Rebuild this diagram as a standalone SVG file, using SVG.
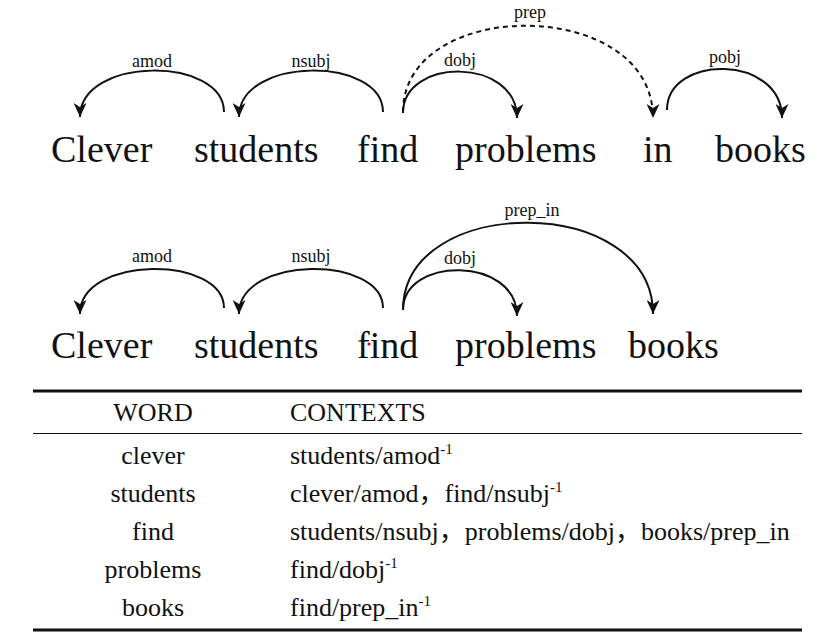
<svg xmlns="http://www.w3.org/2000/svg" width="836" height="634" viewBox="0 0 836 634">
<style>
.w{font-family:'Liberation Serif','Tinos','DejaVu Serif',serif;font-size:38px;fill:#111}
.l{font-family:'Liberation Serif','Tinos','DejaVu Serif',serif;font-size:18px;fill:#111;text-anchor:middle}
.t{font-family:'Liberation Serif','Tinos','DejaVu Serif','Noto Sans CJK SC',serif;font-size:26px;fill:#111}
.c{text-anchor:middle}
.a{fill:none;stroke:#111;stroke-width:2;marker-end:url(#ah)}
.d{stroke-dasharray:5,4}
</style>
<defs>
<marker id="ah" markerUnits="userSpaceOnUse" markerWidth="15" markerHeight="13" refX="14" refY="6.5" orient="auto">
<path d="M0,0 L14,6.5 L0,13 L4,6.5 z" fill="#111"/>
</marker>
</defs>
<rect width="836" height="634" fill="#fff"/>

<g id="sentence1">
<text class="w" x="51" y="162">Clever</text>
<text class="w" x="194" y="162">students</text>
<text class="w" x="357" y="162">find</text>
<text class="w" x="455" y="162">problems</text>
<text class="w" x="643" y="162">in</text>
<text class="w" x="715" y="162">books</text>
</g>

<g id="sentence2">
<text class="w" x="51" y="358">Clever</text>
<text class="w" x="194" y="358">students</text>
<text class="w" x="357" y="358">find</text>
<text class="w" x="455" y="358">problems</text>
<text class="w" x="628" y="358">books</text>
<circle cx="369" cy="344" r="1.6" fill="#e00"/>
</g>

<g id="connectors">
<path class="a" d="M224,112 C224,56 80,56 80,117"/>
<path class="a" d="M383,112 C383,56 239,56 239,117"/>
<path class="a" d="M403,113 C403,57 517,57 517,118"/>
<path class="a d" d="M403,112 C403,-4 653,-4 653,118"/>
<path class="a" d="M667,110 C667,54 782,54 782,118"/>
<path class="a" d="M224,308 C224,255 80,255 80,314"/>
<path class="a" d="M383,308 C383,255 239,255 239,314"/>
<path class="a" d="M403,310 C403,256 517,256 517,316"/>
<path class="a" d="M403,310 C403,193 653,193 653,314"/>
</g>

<g id="labels">
<text class="l" x="152" y="67">amod</text>
<text class="l" x="311" y="67">nsubj</text>
<text class="l" x="460" y="66">dobj</text>
<text class="l" x="530" y="18">prep</text>
<text class="l" x="725" y="63">pobj</text>
<text class="l" x="152" y="262">amod</text>
<text class="l" x="311" y="262">nsubj</text>
<text class="l" x="460" y="264">dobj</text>
<text class="l" x="532" y="216">prep_in</text>
</g>

<g id="table">
<line x1="33" y1="391" x2="802" y2="391" stroke="#111" stroke-width="3"/>
<line x1="33" y1="433.5" x2="802" y2="433.5" stroke="#111" stroke-width="1"/>
<line x1="33" y1="630" x2="802" y2="630" stroke="#111" stroke-width="3"/>
<text class="t c" x="153" y="421">WORD</text>
<text class="t" x="290" y="421">CONTEXTS</text>
<text class="t c" x="153" y="464">clever</text>
<text class="t" x="290" y="464">students/amod<tspan font-size="15" dy="-10">-1</tspan></text>
<text class="t c" x="153" y="502">students</text>
<text class="t" x="290" y="502">clever/amod，find/nsubj<tspan font-size="15" dy="-10">-1</tspan></text>
<text class="t c" x="153" y="540">find</text>
<text class="t" x="290" y="540">students/nsubj，problems/dobj，books/prep_in</text>
<text class="t c" x="153" y="578">problems</text>
<text class="t" x="290" y="578">find/dobj<tspan font-size="15" dy="-10">-1</tspan></text>
<text class="t c" x="153" y="616">books</text>
<text class="t" x="290" y="616">find/prep_in<tspan font-size="15" dy="-10">-1</tspan></text>
</g>
</svg>
